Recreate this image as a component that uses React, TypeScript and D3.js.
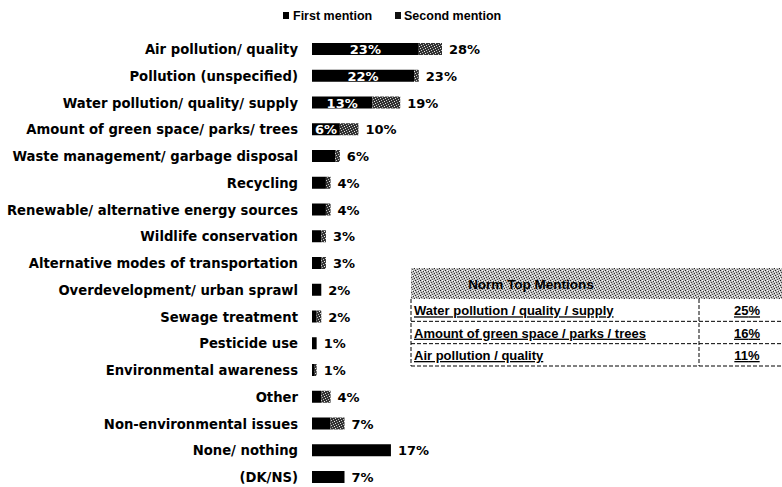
import * as d3 from 'd3';
import React from 'react';

const categories = [
  'Air pollution/ quality',
  'Pollution (unspecified)',
  'Water pollution/ quality/ supply',
  'Amount of green space/ parks/ trees',
  'Waste management/ garbage disposal',
  'Recycling',
  'Renewable/ alternative energy sources',
  'Wildlife conservation',
  'Alternative modes of transportation',
  'Overdevelopment/ urban sprawl',
  'Sewage treatment',
  'Pesticide use',
  'Environmental awareness',
  'Other',
  'Non-environmental issues',
  'None/ nothing',
  '(DK/NS)',
];
const firstMention = [23, 22, 13, 6, 5, 3, 3, 2, 2, 2, 1, 1, 0.6, 2, 4, 17, 7];
const secondMention = [5, 1, 6, 4, 1, 1, 1, 1, 1, 0, 1, 0, 0.4, 2, 3, 0, 0];
const totals = [28, 23, 19, 10, 6, 4, 4, 3, 3, 2, 2, 1, 1, 4, 7, 17, 7];
const seriesNames = ['First mention', 'Second mention'];

const normTitle = 'Norm Top Mentions';
const normItems = [
  'Water pollution / quality / supply',
  'Amount of green space / parks / trees',
  'Air pollution / quality',
];
const normValues = [25, 16, 11];

const W = 782;
const H = 487;
const FONT = "'Liberation Sans', Arial, sans-serif";
const WIDE = "'DejaVu Sans', Verdana, sans-serif";

export default function App() {
  const x = d3.scaleLinear().domain([0, 28]).range([312, 442]);
  const y = d3.scalePoint<string>().domain(categories).range([49, 477]);
  const barH = 12;

  const stacked = categories.map((c, i) => {
    const a = firstMention[i];
    const b = secondMention[i];
    return { c, i, segs: [[0, a], [a, a + b]] };
  });

  const tRows = d3.scaleBand<string>().domain(normItems).range([299, 366]);
  const tLeft = 411;
  const tRight = 782;
  const tDiv = 699;

  return (
    <svg
      width={W}
      height={H}
      style={{ position: 'absolute', left: 0, top: 0, background: '#fff' }}
      fontFamily={FONT}
    >
      <defs>
        {/* scanned halftone look for the table header */}
        <pattern id="dither" width="5" height="5" patternUnits="userSpaceOnUse">
          <rect width="5" height="5" fill="#bdbdbd" />
          <rect x="0" y="0" width="1" height="1" fill="#222" />
          <rect x="3" y="1" width="1" height="1" fill="#333" />
          <rect x="1" y="2" width="1" height="1" fill="#444" />
          <rect x="4" y="3" width="1" height="1" fill="#222" />
          <rect x="2" y="4" width="1" height="1" fill="#555" />
          <rect x="2" y="0" width="1" height="1" fill="#fff" />
          <rect x="0" y="3" width="1" height="1" fill="#fff" />
          <rect x="4" y="1" width="1" height="1" fill="#fff" />
        </pattern>
        {/* second mention: speckled dark grey */}
        <pattern id="dither2" width="5" height="5" patternUnits="userSpaceOnUse">
          <rect width="5" height="5" fill="#333" />
          <rect x="1" y="0" width="1" height="1" fill="#ccc" />
          <rect x="4" y="1" width="1" height="1" fill="#eee" />
          <rect x="2" y="2" width="1" height="1" fill="#aaa" />
          <rect x="0" y="3" width="1" height="1" fill="#ddd" />
          <rect x="3" y="4" width="1" height="1" fill="#bbb" />
        </pattern>
      </defs>

      {/* legend */}
      <g fontSize={12.5} fontWeight="bold">
        <rect x={283} y={12} width={6} height={7} fill="#000" />
        <text x={293} y={20}>{seriesNames[0]}</text>
        <rect x={395} y={12} width={6} height={7} fill="#111" />
        <text x={404} y={20}>{seriesNames[1]}</text>
      </g>

      {/* category labels */}
      <g fontSize={13.2} fontWeight="bold" textAnchor="end" fontFamily={WIDE}>
        {categories.map((c) => (
          <text key={c} x={298} y={(y(c) as number) + 5}>{c}</text>
        ))}
      </g>

      {/* bars */}
      {stacked.map((row) => {
        const cy = y(row.c) as number;
        return (
          <g key={row.c}>
            {row.segs.map((s, k) =>
              s[1] - s[0] > 0 ? (
                <rect
                  key={k}
                  x={x(s[0])}
                  y={cy - barH / 2}
                  width={x(s[1]) - x(s[0])}
                  height={barH}
                  fill={k === 0 ? '#000' : 'url(#dither2)'}
                />
              ) : null
            )}
            {firstMention[row.i] >= 6 && secondMention[row.i] > 0 && (
              <text
                x={(x(0) + x(firstMention[row.i])) / 2}
                y={cy + 5}
                fill="#fff"
                fontSize={13}
                fontWeight="bold"
                textAnchor="middle"
                fontFamily={WIDE}
              >
                {firstMention[row.i]}%
              </text>
            )}
            <text
              x={x(firstMention[row.i] + secondMention[row.i]) + 7}
              y={cy + 5}
              fontSize={13}
              fontWeight="bold"
              fontFamily={WIDE}
            >
              {totals[row.i]}%
            </text>
          </g>
        );
      })}

      {/* norm table */}
      <g>
        <rect x={tLeft} y={268} width={tRight - tLeft} height={31} fill="url(#dither)" />
        <text
          x={531}
          y={289}
          fontSize={13.5}
          fontWeight="bold"
          textAnchor="middle"
          fill="#000"
        >
          {normTitle}
        </text>
        {normItems.map((item, i) => {
          const top = tRows(item) as number;
          const h = tRows.bandwidth();
          return (
            <g key={item} fontSize={13} fontWeight="bold">
              <text x={tLeft + 3} y={top + h - 6} textDecoration="underline">{item}</text>
              <text x={747} y={top + h - 6} textAnchor="middle" textDecoration="underline">
                {normValues[i]}%
              </text>
              <line
                x1={tLeft}
                x2={tRight}
                y1={top + h}
                y2={top + h}
                stroke="#000"
                strokeWidth={1}
                strokeDasharray="4 2"
              />
            </g>
          );
        })}
        <line x1={tLeft} x2={tLeft} y1={299} y2={366} stroke="#000" strokeDasharray="4 2" />
        <line x1={tDiv} x2={tDiv} y1={299} y2={366} stroke="#000" strokeDasharray="4 2" />
      </g>
    </svg>
  );
}
